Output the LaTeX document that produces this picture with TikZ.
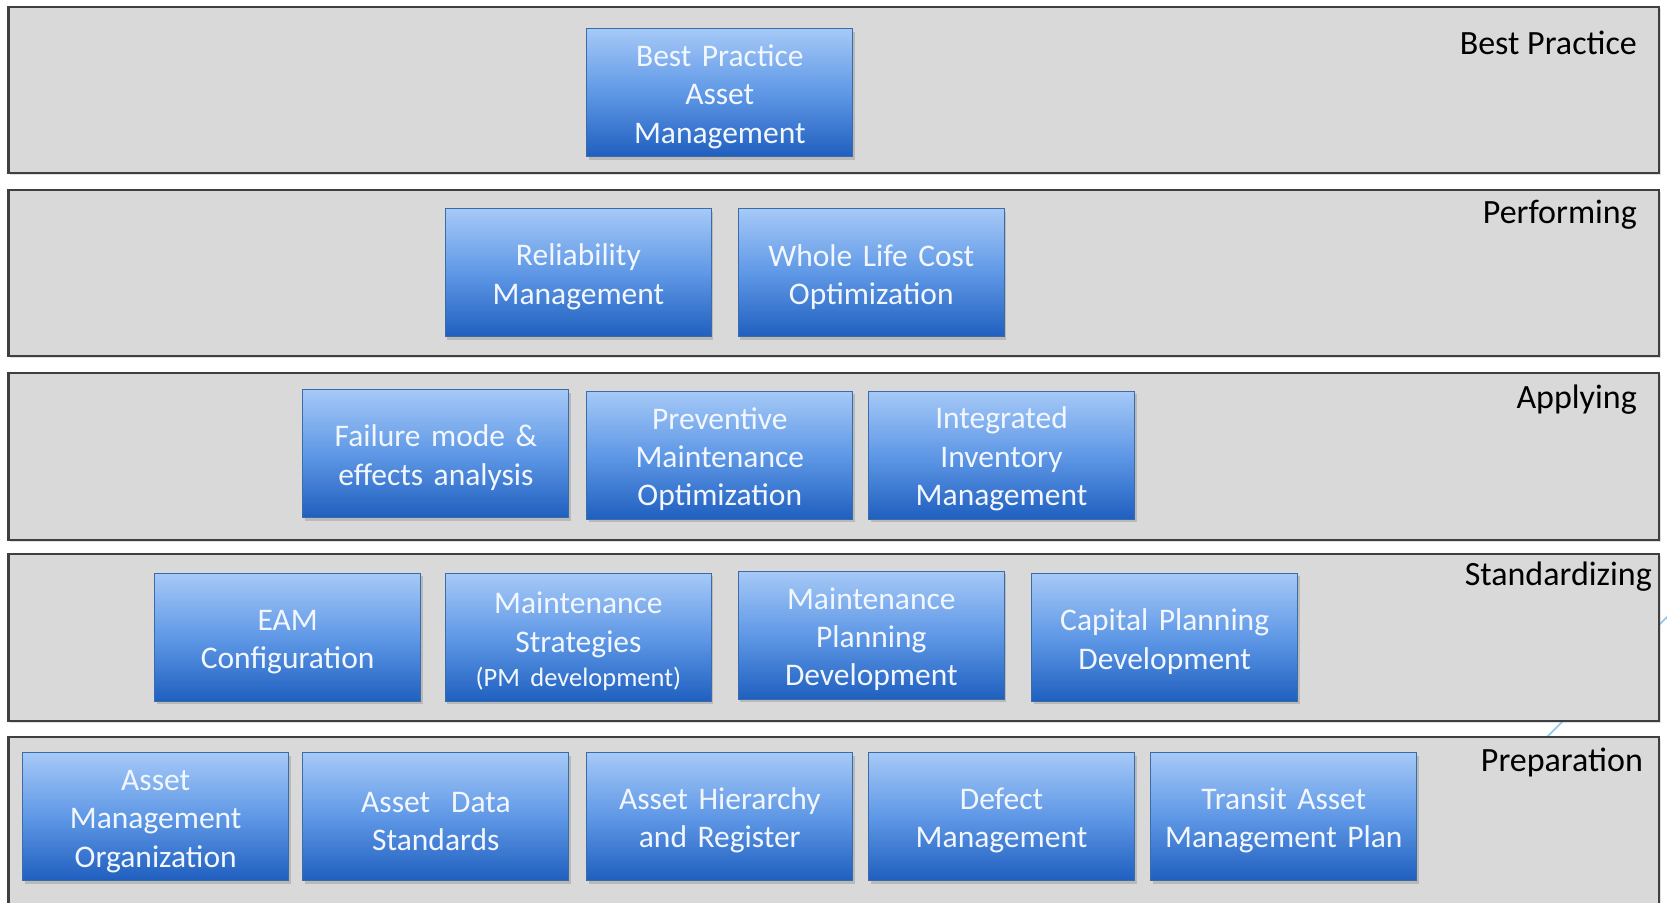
\documentclass[tikz,border=0pt]{standalone}
\usepackage{fontspec}
\setmainfont{Carlito}
\usetikzlibrary{shadows}
\definecolor{bandfill}{HTML}{D9D9D9}
\definecolor{bandline}{HTML}{3F3F3F}
\definecolor{boxtop}{HTML}{A6C9F7}
\definecolor{boxmid}{HTML}{5F98E6}
\definecolor{boxbot}{HTML}{1F5FBF}
\definecolor{boxline}{HTML}{3C6CA8}
\definecolor{boxtext}{HTML}{F2F7FF}
\definecolor{faint}{HTML}{8CC4EE}
\begin{document}
\begin{tikzpicture}[x=1pt,y=-1pt,
  band/.style={draw=bandline, line width=2.5pt, fill=bandfill,
    drop shadow={opacity=0.25,shadow xshift=1.5pt,shadow yshift=-2pt}},
  stage/.style={font=\fontsize{34}{40}\selectfont, text=black, anchor=base east, inner sep=0pt},
  block/.style={draw=boxline, line width=1pt, top color=boxtop, bottom color=boxbot,
    middle color=boxmid, minimum width=266pt, minimum height=128pt, text width=262pt,
    align=center, text=boxtext, font=\fontsize{31.5}{38.3}\selectfont, inner sep=0pt,
    execute at begin node={\rule{0pt}{30pt}},
    drop shadow={opacity=0.35,shadow xshift=2pt,shadow yshift=-3pt}}]
\useasboundingbox (0,0) rectangle (1667,902);
% faint line behind the bands
\coordinate (fa) at (1680,604);
\coordinate (fb) at (1520,764);
\draw[faint, line width=1.5pt] (fa) -- (fb);
% bands
\path[band] (8.5,7) rectangle (1659,173);
\path[band] (8.5,190) rectangle (1659,356);
\path[band] (8.5,373) rectangle (1659,540);
\path[band] (8.5,554) rectangle (1659,721);
\path[band] (8.5,737) rectangle (1659,920);
% stage labels
\node[stage] (lbp) at (1637,54) {Best Practice};
\node[stage] (lpf) at (1637,223) {Performing};
\node[stage] (lap) at (1637,408) {Applying};
\node[stage] (lst) at (1652,585) {Standardizing};
\node[stage] (lpr) at (1643,771) {Preparation};
% Best practice
\node[block] (bpam) at (719.8,92.5) {Best Practice\\Asset\\Management};
% Performing
\node[block] (rel) at (578.4,272.7) {Reliability\\Management};
\node[block] (wlc) at (871.3,272.7) {Whole Life Cost\\Optimization};
% Applying
\node[block] (fmea) at (435.9,453.5) {Failure mode \&\\effects analysis};
\node[block] (pmo) at (719.8,455) {Preventive\\Maintenance\\Optimization};
\node[block] (iim) at (1001.5,455) {Integrated\\Inventory\\Management};
% Standardizing
\node[block] (eam) at (287.6,637.4) {EAM\\Configuration};
\node[block] (mst) at (578.4,637.4) {Maintenance\\Strategies\\[-4pt]{\fontsize{26.5}{32}\selectfont (PM development)}};
\node[block] (mpd) at (871.3,635) {Maintenance\\Planning\\Development};
\node[block] (cpd) at (1164.7,637.4) {Capital Planning\\Development};
% Preparation
\node[block] (amo) at (155.7,816.5) {Asset\\Management\\Organization};
\node[block] (ads) at (435.9,816.5) {Asset~ Data\\Standards};
\node[block] (ahr) at (719.8,816.5) {Asset Hierarchy\\and Register};
\node[block] (dfm) at (1001.5,816.5) {Defect\\Management};
\node[block] (tam) at (1283.8,816.5) {Transit Asset\\Management Plan};
\end{tikzpicture}
\end{document}
